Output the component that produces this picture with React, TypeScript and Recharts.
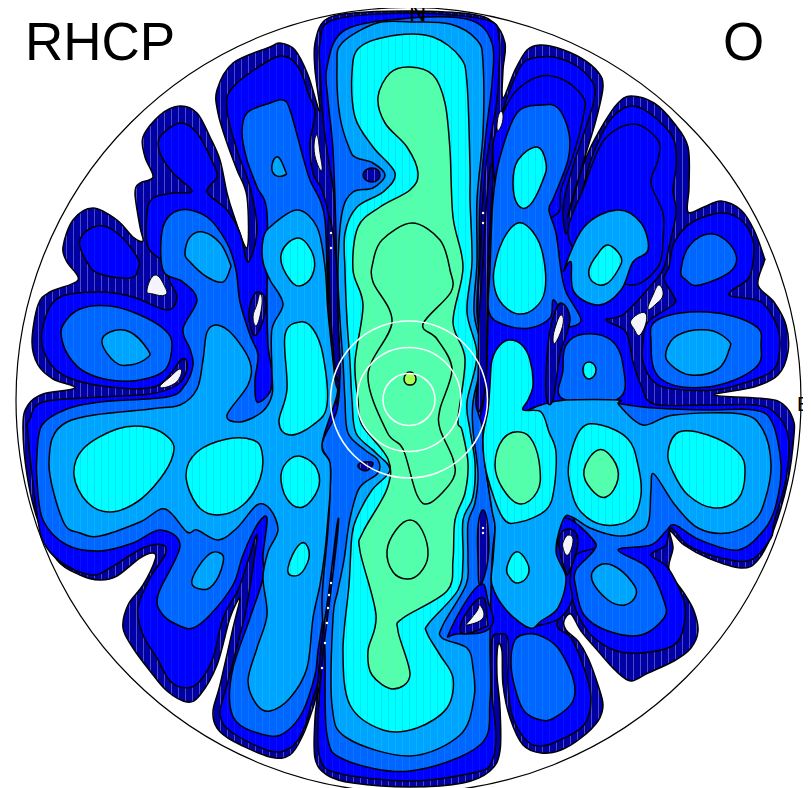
import React from "react";
import { ScatterChart, Scatter, XAxis, YAxis, ReferenceDot, ReferenceLine } from "recharts";

type Pt = [number, number];

// contour levels (x, y in the plot's own units, y down)
const outerEdge: Pt[] = [[410,11],[470,14],[493,22],[505,43],[503,70],[503,98],[515,70],[527,50],[540,45],[558,48],[581,58],[598,72],[603,87],[596,120],[584,160],[568,217],[574,193],[588,153],[604,123],[618,103],[631,96],[654,103],[674,123],[688,147],[689,187],[688,212],[704,207],[721,201],[741,210],[754,230],[764,257],[764,262],[758,285],[774,302],[786,325],[788,352],[778,375],[754,387],[714,395],[768,399],[784,405],[793,419],[794,435],[788,480],[774,529],[758,560],[741,568],[708,558],[684,545],[670,531],[673,548],[669,570],[684,593],[694,611],[698,631],[691,648],[674,661],[648,673],[631,681],[616,671],[598,651],[581,631],[571,614],[564,621],[566,630],[578,641],[588,658],[598,685],[603,705],[598,721],[581,738],[561,750],[541,753],[523,745],[510,718],[503,685],[502,651],[498,645],[497,675],[500,708],[500,751],[490,771],[463,783],[410,787],[353,783],[327,775],[315,758],[315,718],[318,691],[313,708],[303,735],[290,755],[270,757],[233,741],[217,728],[213,711],[220,685],[233,628],[240,598],[230,618],[217,665],[200,695],[187,702],[167,691],[150,671],[133,648],[123,628],[128,605],[143,585],[155,560],[153,553],[140,558],[117,576],[100,580],[80,575],[57,560],[38,521],[27,475],[23,425],[28,405],[43,394],[75,388],[53,379],[38,365],[32,342],[38,305],[50,292],[78,280],[67,262],[63,247],[73,220],[93,208],[117,220],[133,237],[143,241],[140,227],[135,193],[140,183],[153,177],[145,157],[143,137],[160,115],[180,106],[197,113],[210,137],[220,160],[227,193],[233,213],[247,248],[247,197],[237,170],[227,143],[218,113],[217,90],[233,63],[270,47],[280,43],[295,50],[308,75],[320,112],[315,70],[315,43],[325,20],[353,13]];

const blueMain: Pt[] = [[410,13],[487,20],[499,38],[499,70],[497,100],[491,135],[486,165],[482,210],[480,262],[476,320],[474,380],[473,415],[480,417],[486,380],[488,320],[490,262],[492,220],[493,147],[500,120],[510,90],[523,63],[541,57],[558,58],[578,67],[593,83],[594,100],[586,127],[574,163],[564,200],[564,227],[568,232],[578,207],[591,160],[608,123],[624,108],[638,107],[658,120],[674,140],[676,167],[673,190],[676,213],[669,247],[664,267],[654,282],[624,314],[606,320],[626,332],[633,362],[641,385],[654,404],[708,405],[754,405],[774,412],[788,435],[786,479],[774,522],[771,538],[751,560],[721,558],[689,546],[671,528],[666,545],[651,555],[668,568],[684,601],[684,625],[674,645],[641,653],[614,650],[591,635],[578,615],[569,595],[557,625],[571,638],[584,668],[591,698],[584,725],[558,741],[541,746],[527,741],[513,718],[508,685],[508,640],[500,634],[492,640],[491,685],[496,735],[492,761],[477,772],[410,781],[337,773],[320,758],[318,725],[320,685],[324,640],[331,590],[338,525],[331,585],[322,640],[318,681],[313,698],[303,731],[290,748],[270,751],[233,733],[220,715],[227,685],[240,635],[247,605],[257,536],[248,561],[238,590],[223,618],[213,658],[200,681],[187,688],[170,681],[157,658],[143,635],[138,608],[150,578],[165,555],[163,545],[143,548],[110,568],[93,575],[67,566],[47,548],[38,521],[28,435],[30,419],[43,402],[100,397],[150,394],[177,385],[187,369],[182,359],[157,386],[110,387],[63,375],[43,349],[45,319],[60,297],[100,292],[133,297],[167,310],[177,297],[170,282],[163,262],[148,247],[147,213],[153,198],[173,193],[192,191],[173,173],[160,153],[160,137],[180,123],[197,133],[213,163],[217,177],[207,192],[227,210],[240,233],[248,262],[257,230],[250,187],[237,150],[227,110],[233,87],[270,60],[287,57],[300,70],[308,93],[315,113],[310,143],[313,173],[322,190],[329,220],[328,270],[329,320],[333,370],[337,405],[340,370],[338,320],[337,270],[336,220],[333,187],[327,150],[323,117],[320,67],[320,43],[333,20]];
const blueThirdLobe: Pt[] = [[669,267],[674,243],[691,223],[721,213],[741,220],[753,240],[753,262],[748,279],[729,295],[761,302],[778,329],[779,355],[771,372],[741,384],[714,390],[674,389],[654,382],[643,362],[643,342],[648,322],[674,304],[673,295],[664,279]];
const blueUpperLeft: Pt[] = [[80,240],[97,226],[117,233],[137,257],[138,269],[130,278],[100,274],[87,262]];
const bluePocketRight: Pt[] = [[565,518],[596,545],[576,555],[570,580],[572,600],[560,618],[541,625],[525,625],[550,600],[556,551]];
const bluePocketLow: Pt[] = [[450,631],[478,586],[488,601],[490,628],[457,634]];
const blueFirstInner: Pt[] = [[493,147],[503,113],[517,90],[541,76],[564,80],[583,97],[584,113],[574,153],[561,190],[558,213],[530,220],[500,200]];
const blueSecondInner: Pt[] = [[568,232],[584,187],[604,140],[634,124],[658,140],[658,160],[651,183],[663,213],[663,240],[658,267],[630,285],[585,260]];

const midCenter: Pt[] = [[410,18],[470,20],[492,43],[492,83],[486,133],[480,200],[479,262],[477,312],[482,355],[476,400],[483,430],[485,463],[492,510],[495,527],[492,560],[490,640],[490,700],[480,745],[410,771],[345,760],[327,735],[325,651],[322,600],[328,530],[330,493],[330,463],[322,444],[337,410],[340,370],[338,320],[336.5,270],[336,233],[333,150],[328,100],[327,67],[345,30]];
const midLeft: Pt[] = [[270,103],[283,100],[290,110],[303,157],[310,180],[320,200],[325,220],[327,270],[328,312],[335,379],[337,395],[322,444],[330,463],[330,493],[328,530],[325,600],[318,651],[315,675],[303,711],[287,731],[270,736],[240,725],[230,705],[233,668],[250,618],[263,578],[263,555],[267,518],[257,525],[243,555],[233,585],[210,615],[193,628],[180,626],[163,615],[158,595],[180,546],[160,530],[133,543],[100,551],[67,545],[43,520],[37,480],[37,455],[42,425],[67,409],[100,402],[167,397],[185,385],[193,365],[190,349],[183,329],[197,300],[183,282],[163,270],[163,227],[180,210],[207,217],[227,243],[236,270],[240,302],[250,335],[258,355],[255,380],[257,402],[270,392],[272,372],[268,345],[267,300],[267,213],[257,187],[247,160],[242,133],[247,113]];
const midLeftOval: Pt[] = [[62,340],[63,325],[80,309],[110,306],[140,315],[165,330],[172,345],[165,370],[140,380],[110,380],[85,372],[70,358]];
const midFirstRight: Pt[] = [[541,105],[558,108],[569,133],[568,160],[554,197],[549,210],[556,233],[561,270],[566,292],[581,320],[566,326],[560,310],[553,300],[550,318],[530,328],[505,325],[489,312],[490,270],[493,200],[500,157],[517,113]];
const midThirdRight: Pt[] = [[681,270],[690,245],[713,234],[734,250],[732,270],[700,285],[686,280]];
const midBox: Pt[] = [[563,399],[563,370],[566,345],[584,334],[611,340],[623,365],[618,399]];
const midRightOval: Pt[] = [[651,342],[659,319],[708,312],[754,325],[761,345],[754,369],[708,387],[661,379]];
const midRightBand: Pt[] = [[654,408],[708,410],[754,410],[772,422],[781,465],[776,505],[764,530],[738,550],[700,540],[675,525],[666,531],[651,545],[618,550],[648,568],[664,601],[664,618],[641,635],[608,631],[584,615],[576,588],[576,570],[596,545],[575,522],[560,450],[566,402]];
const midBottomRight: Pt[] = [[511,665],[515,640],[527,634],[541,636],[558,648],[573,678],[573,701],[554,718],[541,720],[525,712],[517,695]];

const lightLeft: Pt[] = [[270,227],[297,210],[317,227],[325,267],[328,312],[335,379],[337,395],[322,444],[330,463],[330,493],[328,518],[325,551],[320,585],[313,618],[307,668],[290,698],[270,711],[257,705],[248,681],[257,648],[267,615],[263,578],[268,552],[278,530],[270,509],[257,505],[237,528],[218,540],[197,530],[187,532],[165,509],[140,522],[100,536],[80,533],[63,521],[49,462],[67,422],[150,409],[180,405],[197,389],[203,360],[207,332],[217,325],[233,335],[250,362],[248,385],[227,415],[240,422],[262,412],[272,395],[272,372],[272,329],[283,304],[270,280],[263,262],[263,240]];
const lightLobe: Pt[] = [[185,253],[190,237],[203,232],[220,243],[230,263],[230,269],[223,282],[207,277],[190,262]];
const lightOval: Pt[] = [[102,343],[110,332],[130,332],[148,350],[147,358],[130,365],[115,362]];
const lightDot: Pt[] = [[272,165],[278,157],[285,170],[285,175],[275,175]];
const lightBottomLeft: Pt[] = [[192,580],[207,556],[220,553],[223,563],[213,585],[200,589]];
const lightRight: Pt[] = [[566,400],[618,400],[619,405],[643,425],[674,415],[741,414],[763,430],[771,465],[765,500],[754,521],[728,533],[698,528],[675,505],[654,474],[651,489],[649,520],[641,531],[618,536],[590,528],[574,518],[564,518],[556,551],[566,578],[558,608],[541,621],[530,628],[507,611],[492,585],[493,560],[495,527],[492,510],[485,463],[483,435],[490,420],[523,412],[541,405]];
const lightCenter: Pt[] = [[410,22],[450,24],[477,40],[483,63],[483,133],[477,200],[477,262],[474,312],[482,355],[473,402],[473,430],[478,473],[475,503],[468,523],[468,560],[466,585],[443,625],[442,638],[467,648],[473,668],[474,698],[460,735],[410,756],[347,738],[332,705],[333,618],[338,590],[344,560],[348,530],[352,510],[360,487],[378,473],[378,460],[365,450],[348,433],[345,400],[343,362],[340,320],[338,270],[342,213],[353,192],[373,188],[385,175],[373,163],[357,158],[350,150],[340,117],[337,67],[342,43],[377,23]];
const lightSecondRight: Pt[] = [[564,270],[584,227],[617,210],[641,223],[648,250],[633,262],[621,290],[599,305],[574,292],[571,262]];
const lightThirdRight: Pt[] = [[666,352],[678,335],[708,330],[728,340],[729,350],[718,369],[691,375],[671,365]];
const lightLowerRight: Pt[] = [[592,580],[598,566],[614,566],[632,582],[636,595],[625,605],[608,600]];

const cyanCenter: Pt[] = [[397,35],[433,37],[460,57],[467,83],[470,167],[470,200],[472,262],[467,312],[477,355],[467,402],[470,430],[475,463],[473,497],[463,520],[463,560],[458,590],[429,623],[427,633],[440,655],[453,678],[447,708],[417,728],[383,730],[350,705],[343,651],[349,585],[352,535],[358,515],[372,490],[390,470],[375,452],[356,433],[352,400],[350,362],[347,320],[345,270],[345,233],[357,207],[383,192],[395,173],[373,147],[355,117],[352,73],[360,47]];
const cyanBigLeft: Pt[] = [[74,475],[83,449],[117,429],[147,427],[170,439],[173,455],[160,479],[137,502],[110,512],[87,502]];
const cyanMidLeft: Pt[] = [[186,475],[197,452],[227,439],[253,440],[262,452],[260,479],[243,505],[217,515],[197,505]];
const cyanNearLeft: Pt[] = [[281,475],[290,459],[303,457],[317,469],[318,489],[303,507],[287,499]];
const cyanTallLeft: Pt[] = [[279,422],[287,389],[285,335],[300,322],[313,329],[323,355],[327,405],[313,425],[290,435]];
const cyanUpperLeft: Pt[] = [[281,255],[297,238],[311,250],[314,270],[303,285],[290,280]];
const cyanLowerLeft: Pt[] = [[288,568],[300,544],[309,551],[305,568],[295,576]];
const cyanBigRight: Pt[] = [[668,452],[679,432],[708,435],[738,452],[745,472],[738,499],[714,508],[688,495],[673,472]];
const cyanMidRight: Pt[] = [[569,462],[581,429],[601,425],[628,439],[638,465],[641,495],[631,519],[604,525],[581,512],[571,489]];
const cyanDot: Pt[] = [[583,370],[589,362],[596,370],[589,379]];
const cyanNearRight: Pt[] = [[490,385],[492,360],[500,345],[510,340],[522,345],[530,360],[533,385],[528,400],[523,410],[541,412],[549,432],[556,452],[554,489],[546,510],[520,522],[503,518],[487,475],[483,439],[488,410]];
const cyanFirstTop: Pt[] = [[513,183],[518,160],[537,147],[546,163],[543,180],[530,205],[518,205]];
const cyanFirstMid: Pt[] = [[494,270],[503,240],[518,223],[533,232],[543,255],[545,290],[535,308],[518,314],[503,305],[495,290]];
const cyanLowDot: Pt[] = [[507,567],[516,552],[527,562],[528,575],[518,583],[510,578]];
const cyanSecondRight: Pt[] = [[589,270],[597,255],[608,245],[621,257],[618,270],[606,284],[593,282]];

const greenCenter: Pt[] = [[378,97],[390,73],[410,67],[433,75],[445,103],[450,150],[453,217],[463,267],[453,322],[465,359],[458,419],[462,430],[468,463],[465,493],[455,520],[453,560],[447,591],[403,618],[398,631],[410,675],[393,689],[372,675],[368,651],[376,615],[360,551],[363,532],[387,489],[388,459],[362,425],[358,400],[355,362],[363,305],[353,270],[358,227],[380,207],[410,190],[418,173],[407,147],[385,123]];
const greenInner: Pt[] = [[373,262],[382,240],[412,223],[440,240],[450,270],[451,292],[423,324],[437,339],[452,369],[440,409],[440,429],[453,459],[453,479],[430,503],[417,495],[403,449],[387,432],[368,375],[392,322],[373,282]];
const greenLower: Pt[] = [[387,551],[396,530],[410,520],[422,530],[428,555],[420,573],[407,579],[393,572]];
const greenNearRight: Pt[] = [[495,465],[503,439],[520,432],[533,442],[540,469],[537,492],[520,504],[503,489]];
const greenMidRight: Pt[] = [[584,470],[598,450],[613,459],[618,479],[606,497],[591,489]];
const limePeak: Pt[] = [[404,379],[410,372],[416,379],[410,385]];

const navyPocketA: Pt[] = [[561,303],[570,320],[560,355],[553,400],[546,395],[548,345],[553,318]];
const navyPocketB: Pt[] = [[569,529],[578,541],[570,570],[565,570],[559,540]];
const navyPocketC: Pt[] = [[460,630],[480,598],[487,618],[483,628]];
const navyPocketD: Pt[] = [[258,292],[266,305],[257,334],[250,325],[250,305]];
const navyCore: Pt[] = [[363,175],[372,168],[380,175],[372,182]];
const navyCoreLow: Pt[] = [[358,465],[365,462],[373,463],[368,470],[362,470]];
const navyColTop: Pt[] = [[328,225],[331,222],[337,270],[338,320],[340,372],[336,375],[331,320],[329,270]];
const navyColBottom: Pt[] = [[337,525],[338,530],[331,590],[324,645],[320,685],[318,685],[322,640],[329,590]];
const navyColRight: Pt[] = [[490,170],[493,175],[488,262],[487,320],[486,380],[480,410],[476,405],[478,380],[479,320],[483,262],[486,210]];
const navyColLow: Pt[] = [[483,510],[488,527],[488,560],[480,585],[478,560],[478,527]];

const holes: Pt[][] = [
  [[317,135],[320,153],[322,170],[317,163],[314,147]],
  [[500,112],[503,118],[499,130],[497,125]],
  [[155,275],[165,287],[165,295],[153,294],[147,290]],
  [[180,369],[180,377],[172,385],[160,387],[170,377]],
  [[260,294],[262,304],[257,325],[253,317],[257,304]],
  [[659,285],[663,295],[656,304],[648,309],[653,295]],
  [[646,314],[641,334],[634,329],[632,319]],
  [[561,315],[563,324],[556,342],[553,339],[556,325]],
  [[569,535],[573,541],[568,555],[563,548],[564,540]],
  [[480,605],[483,618],[467,625],[470,620],[477,611]],
];
const specks: Pt[] = [[322,668],[325,643],[327,623],[328,608],[329,595],[331,583],[331,233],[331,248],[483,213],[483,223],[483,528],[483,533]];

const levels = {
  navy: { base: "#0000a5", stripe: "#4a4ac4" },
  blue: { base: "#0000ff", stripe: "#0012ff" },
  mid: { base: "#0066ff", stripe: "#0078ff" },
  light: { base: "#00a4ff", stripe: "#00b4ff" },
  cyan: { base: "#00ffff", stripe: "#00e4ff" },
  green: { base: "#55ffaa", stripe: "#4cffc0" },
  lime: { base: "#aaff55", stripe: "#aaff55" },
};
type Level = keyof typeof levels;

const contours: [Pt[], Level][] = [
  [outerEdge, "navy"],
  [blueMain, "blue"], [blueThirdLobe, "blue"], [blueUpperLeft, "blue"], [blueFirstInner, "blue"], [blueSecondInner, "blue"],
  [midLeft, "mid"], [midLeftOval, "mid"], [midFirstRight, "mid"], [midThirdRight, "mid"],
  [midBox, "mid"], [midRightOval, "mid"], [midBottomRight, "mid"], [midRightBand, "mid"], [midCenter, "mid"],
  [bluePocketRight, "blue"], [bluePocketLow, "blue"],
  [lightLeft, "light"], [lightLobe, "light"], [lightOval, "light"], [lightDot, "light"], [lightBottomLeft, "light"], [lightRight, "light"],
  [lightCenter, "light"], [lightSecondRight, "light"], [lightThirdRight, "light"], [lightLowerRight, "light"],
  [cyanCenter, "cyan"], [cyanBigLeft, "cyan"], [cyanMidLeft, "cyan"], [cyanNearLeft, "cyan"], [cyanTallLeft, "cyan"], [cyanUpperLeft, "cyan"],
  [cyanLowerLeft, "cyan"], [cyanBigRight, "cyan"], [cyanMidRight, "cyan"], [cyanDot, "cyan"], [cyanNearRight, "cyan"], [cyanFirstTop, "cyan"],
  [cyanFirstMid, "cyan"], [cyanLowDot, "cyan"], [cyanSecondRight, "cyan"],
  [greenCenter, "green"], [greenInner, "green"], [greenLower, "green"], [greenNearRight, "green"], [greenMidRight, "green"],
  [limePeak, "lime"],
  [navyPocketA, "navy"], [navyPocketB, "navy"], [navyPocketC, "navy"], [navyPocketD, "navy"], [navyCore, "navy"], [navyCoreLow, "navy"],
  [navyColTop, "navy"], [navyColBottom, "navy"], [navyColRight, "navy"], [navyColLow, "navy"],
];

const labels = [
  { text: "RHCP", x: 25, y: 60, size: 53 },
  { text: "O", x: 723, y: 60, size: 53 },
  { text: "N", x: 409, y: 21, size: 24 },
  { text: "E", x: 797, y: 411, size: 20 },
];

// closed catmull-rom through the scaled points, rounder when there are few points
const smoothPath = (pts: { x: number; y: number }[]) => {
  const n = pts.length;
  const k = n <= 4 ? 3.6 : n <= 5 ? 4.3 : n <= 6 ? 4.85 : n <= 8 ? 5.2 : n <= 10 ? 5.6 : 6;
  let d = `M${pts[0].x},${pts[0].y}`;
  for (let i = 0; i < n; i++) {
    const p0 = pts[(i - 1 + n) % n];
    const p1 = pts[i];
    const p2 = pts[(i + 1) % n];
    const p3 = pts[(i + 2) % n];
    const c1x = p1.x + (p2.x - p0.x) / k;
    const c1y = p1.y + (p2.y - p0.y) / k;
    const c2x = p2.x - (p3.x - p1.x) / k;
    const c2y = p2.y - (p3.y - p1.y) / k;
    d += `C${c1x},${c1y} ${c2x},${c2y} ${p2.x},${p2.y}`;
  }
  return d + "Z";
};

const toRows = (pts: Pt[]) => pts.map(([x, y]) => ({ x, y }));
const noMark = () => <g />;

const App = () => (
  <div style={{ position: "relative", margin: "-8px 0 0 -8px", width: 811, height: 788, overflow: "hidden" }}>
    <ScatterChart width={811} height={788} margin={{ top: 0, right: 0, bottom: 0, left: 0 }}>
      <defs>
        {Object.entries(levels).map(([name, c]) => (
          <pattern key={name} id={`fill-${name}`} width="7" height="40" patternUnits="userSpaceOnUse">
            <rect width="7" height="40" fill={c.base} />
            <rect x="3" width="1" height="40" fill={c.stripe} />
          </pattern>
        ))}
      </defs>
      <XAxis type="number" dataKey="x" domain={[0, 811]} hide />
      <YAxis type="number" dataKey="y" domain={[0, 788]} reversed hide width={0} />
      <ReferenceDot x={408.5} y={400} r={392.5} fill="none" stroke="#000" strokeWidth={1.2} ifOverflow="visible" />
      {contours.map(([pts, level], i) => (
        <Scatter
          key={i}
          data={toRows(pts)}
          isAnimationActive={false}
          shape={noMark}
          line={(p: any) => (
            <path key={i} d={smoothPath(p.points)} fill={`url(#fill-${level})`} stroke="#000" strokeWidth={1.5} strokeLinejoin="round" />
          )}
        />
      ))}
      {holes.map((pts, i) => (
        <Scatter
          key={`h${i}`}
          data={toRows(pts)}
          isAnimationActive={false}
          shape={noMark}
          line={(p: any) => <path key={i} d={smoothPath(p.points)} fill="#f4f4ff" stroke="#000" strokeWidth={1} />}
        />
      ))}
      <ReferenceLine segment={[{ x: 478, y: 400 }, { x: 643, y: 400 }]} stroke="#000" strokeWidth={2} />
      <ReferenceDot x={409} y={399.5} r={26} fill="none" stroke="#fff" strokeWidth={1.5} />
      <ReferenceDot x={409} y={399.5} r={52} fill="none" stroke="#fff" strokeWidth={1.5} />
      <ReferenceDot x={409} y={399.5} r={78.5} fill="none" stroke="#fff" strokeWidth={1.5} />
      {specks.map(([x, y], i) => (
        <ReferenceDot key={`s${i}`} x={x} y={y} r={1.2} fill="#fff" stroke="none" />
      ))}
    </ScatterChart>
    {labels.map((l) => (
      <div
        key={l.text}
        style={{
          position: "absolute",
          left: l.x,
          top: l.y - l.size * 0.905,
          fontFamily: "Liberation Sans",
          fontSize: l.size,
          lineHeight: `${l.size * 1.15}px`,
          color: "#000",
        }}
      >
        {l.text}
      </div>
    ))}
  </div>
);

export default App;
